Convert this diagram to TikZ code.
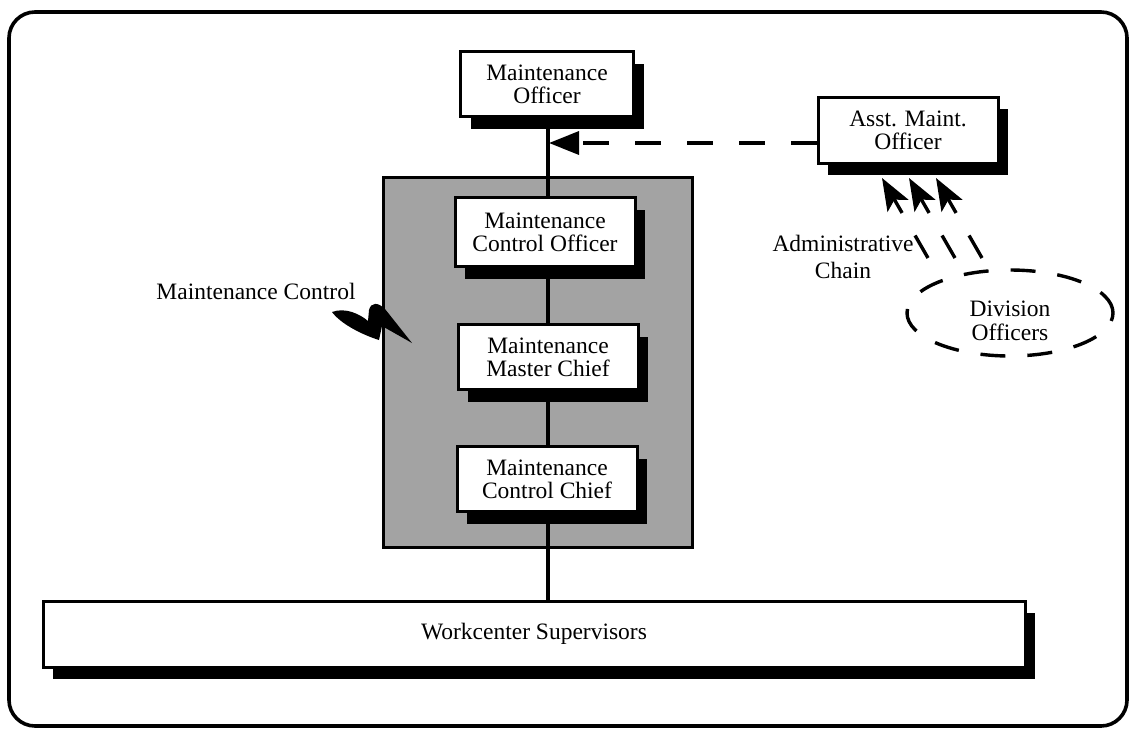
\documentclass[tikz,border=0pt]{standalone}
\usepackage{fontspec}
\setmainfont{Liberation Serif}
\usetikzlibrary{shadows,arrows.meta}

\begin{document}
\begin{tikzpicture}[x=1pt,y=-1pt,
  txt/.style={font=\fontsize{23.5}{23}\selectfont, align=center},
  orgbox/.style={txt, draw, line width=3pt, fill=white, inner sep=0pt,
    drop shadow={shadow xshift=10pt, shadow yshift=-12pt, fill=black, opacity=1}},
  link/.style={line width=3.4pt},
  dashlink/.style={line width=3.4pt, dash pattern=on 26pt off 26pt},
  bigtip/.style={-{Triangle[length=30pt,width=23pt]}},
  admtip/.style={-{Stealth[length=32pt,width=24pt,inset=7pt]}}
]
\useasboundingbox (0,0) rectangle (1131,729);

% outer frame
\draw[line width=3.6pt, rounded corners=26pt] (9,12) rectangle (1127,726);

% maintenance control area
\draw[line width=3pt, fill=black!36] (383,177) rectangle (692,547);

% boxes
\node[orgbox, minimum width=173pt, minimum height=65pt] (mo)  at (547,84)  {Maintenance\\Officer};
\node[orgbox, minimum width=180pt, minimum height=69pt] (mco) at (545,232) {Maintenance\\Control Officer};
\node[orgbox, minimum width=180pt, minimum height=65pt] (mmc) at (548,357) {Maintenance\\Master Chief};
\node[orgbox, minimum width=180pt, minimum height=65pt] (mcc) at (547,479) {Maintenance\\Control Chief};
\node[orgbox, minimum width=982pt, minimum height=66pt] (wc)  at (534,634) {Workcenter Supervisors};
\node[orgbox, minimum width=180pt, minimum height=66pt] (amo) at (908,130) {Asst. Maint.\\Officer};

% chain of command between the boxes
\draw[link] (mo.south -| 548,0) -- (mco.north -| 548,0);
\draw[link] (mco.south -| 548,0) -- (mmc.north -| 548,0);
\draw[link] (mmc.south -| 548,0) -- (mcc.north -| 548,0);
\draw[link] (mcc.south -| 548,0) -- (wc.north -| 548,0);

% labels
\node[txt] (mclabel) at (256,291) {Maintenance Control};
\node[txt, font=\fontsize{23.5}{27}\selectfont] (adm) at (843,257) {Administrative\\Chain};

% lightning bolt
\fill (332,312) .. controls (345,307) and (360,314) .. (368,321)
  -- (369,310) .. controls (371,302) and (378,302) .. (385,309)
  -- (412,343) -- (382,326) -- (379,340)
  .. controls (360,334) and (340,323) .. (332,312) -- cycle;

% division officers
\draw[line width=3.4pt, dash pattern=on 25pt off 22pt] (1010,313) ellipse [x radius=103pt, y radius=43pt];
\node[txt, font=\fontsize{23.5}{24}\selectfont] (div) at (1010,321) {Division\\Officers};

% dashed staff link
\coordinate (mline) at (549,143);
\draw[dashlink, bigtip] (amo.west |- mline) -- (mline);

% administrative chain arrows
\coordinate (s1) at (928,258); \coordinate (e1) at (882,178);
\coordinate (s2) at (955,258); \coordinate (e2) at (909,178);
\coordinate (s3) at (982,258); \coordinate (e3) at (936,178);
\foreach \i in {1,2,3}
  \draw[dashlink, admtip] (s\i) -- (e\i);
\end{tikzpicture}
\end{document}
